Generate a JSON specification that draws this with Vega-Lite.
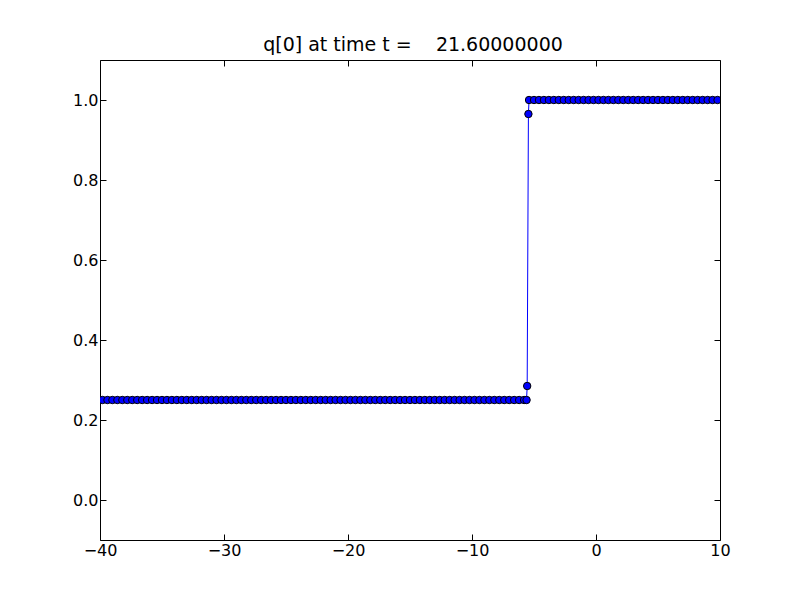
{
  "$schema": "https://vega.github.io/schema/vega-lite/v6.json",
  "width": 620,
  "height": 480,
  "autosize": "none",
  "padding": {"left": 100, "top": 60, "right": 80, "bottom": 60},
  "background": "white",
  "title": {"text": "q[0] at time t =\u00a0\u00a0\u00a0\u00a021.60000000", "font": "DejaVu Sans", "fontSize": 19, "fontWeight": "normal", "color": "black", "offset": 5, "anchor": "middle", "dx": 3},
  "config": {
    "view": {"stroke": "black", "strokeWidth": 1},
    "axis": {"labelFont": "DejaVu Sans", "labelFontSize": 16, "labelColor": "black", "domain": false, "grid": false, "tickColor": "black", "tickSize": -6, "tickWidth": 1, "title": null, "labelFlush": false, "labelOverlap": false, "labelBound": false}
  },
  "data": {"values": [
    {"x": -39.8, "q": 0.25}, {"x": -39.4, "q": 0.25}, {"x": -39.0, "q": 0.25}, {"x": -38.6, "q": 0.25}, {"x": -38.2, "q": 0.25},
    {"x": -37.8, "q": 0.25}, {"x": -37.4, "q": 0.25}, {"x": -37.0, "q": 0.25}, {"x": -36.6, "q": 0.25}, {"x": -36.2, "q": 0.25},
    {"x": -35.8, "q": 0.25}, {"x": -35.4, "q": 0.25}, {"x": -35.0, "q": 0.25}, {"x": -34.6, "q": 0.25}, {"x": -34.2, "q": 0.25},
    {"x": -33.8, "q": 0.25}, {"x": -33.4, "q": 0.25}, {"x": -33.0, "q": 0.25}, {"x": -32.6, "q": 0.25}, {"x": -32.2, "q": 0.25},
    {"x": -31.8, "q": 0.25}, {"x": -31.4, "q": 0.25}, {"x": -31.0, "q": 0.25}, {"x": -30.6, "q": 0.25}, {"x": -30.2, "q": 0.25},
    {"x": -29.8, "q": 0.25}, {"x": -29.4, "q": 0.25}, {"x": -29.0, "q": 0.25}, {"x": -28.6, "q": 0.25}, {"x": -28.2, "q": 0.25},
    {"x": -27.8, "q": 0.25}, {"x": -27.4, "q": 0.25}, {"x": -27.0, "q": 0.25}, {"x": -26.6, "q": 0.25}, {"x": -26.2, "q": 0.25},
    {"x": -25.8, "q": 0.25}, {"x": -25.4, "q": 0.25}, {"x": -25.0, "q": 0.25}, {"x": -24.6, "q": 0.25}, {"x": -24.2, "q": 0.25},
    {"x": -23.8, "q": 0.25}, {"x": -23.4, "q": 0.25}, {"x": -23.0, "q": 0.25}, {"x": -22.6, "q": 0.25}, {"x": -22.2, "q": 0.25},
    {"x": -21.8, "q": 0.25}, {"x": -21.4, "q": 0.25}, {"x": -21.0, "q": 0.25}, {"x": -20.6, "q": 0.25}, {"x": -20.2, "q": 0.25},
    {"x": -19.8, "q": 0.25}, {"x": -19.4, "q": 0.25}, {"x": -19.0, "q": 0.25}, {"x": -18.6, "q": 0.25}, {"x": -18.2, "q": 0.25},
    {"x": -17.8, "q": 0.25}, {"x": -17.4, "q": 0.25}, {"x": -17.0, "q": 0.25}, {"x": -16.6, "q": 0.25}, {"x": -16.2, "q": 0.25},
    {"x": -15.8, "q": 0.25}, {"x": -15.4, "q": 0.25}, {"x": -15.0, "q": 0.25}, {"x": -14.6, "q": 0.25}, {"x": -14.2, "q": 0.25},
    {"x": -13.8, "q": 0.25}, {"x": -13.4, "q": 0.25}, {"x": -13.0, "q": 0.25}, {"x": -12.6, "q": 0.25}, {"x": -12.2, "q": 0.25},
    {"x": -11.8, "q": 0.25}, {"x": -11.4, "q": 0.25}, {"x": -11.0, "q": 0.25}, {"x": -10.6, "q": 0.25}, {"x": -10.2, "q": 0.25},
    {"x": -9.8, "q": 0.25}, {"x": -9.4, "q": 0.25}, {"x": -9.0, "q": 0.25}, {"x": -8.6, "q": 0.25}, {"x": -8.2, "q": 0.25},
    {"x": -7.8, "q": 0.25}, {"x": -7.4, "q": 0.25}, {"x": -7.0, "q": 0.25}, {"x": -6.6, "q": 0.25}, {"x": -6.2, "q": 0.25},
    {"x": -5.8, "q": 0.25}, {"x": -5.6, "q": 0.25}, {"x": -5.55, "q": 0.285}, {"x": -5.45, "q": 0.965}, {"x": -5.4, "q": 1.0},
    {"x": -5.0, "q": 1.0}, {"x": -4.6, "q": 1.0}, {"x": -4.2, "q": 1.0}, {"x": -3.8, "q": 1.0}, {"x": -3.4, "q": 1.0},
    {"x": -3.0, "q": 1.0}, {"x": -2.6, "q": 1.0}, {"x": -2.2, "q": 1.0}, {"x": -1.8, "q": 1.0}, {"x": -1.4, "q": 1.0},
    {"x": -1.0, "q": 1.0}, {"x": -0.6, "q": 1.0}, {"x": -0.2, "q": 1.0}, {"x": 0.2, "q": 1.0}, {"x": 0.6, "q": 1.0},
    {"x": 1.0, "q": 1.0}, {"x": 1.4, "q": 1.0}, {"x": 1.8, "q": 1.0}, {"x": 2.2, "q": 1.0}, {"x": 2.6, "q": 1.0},
    {"x": 3.0, "q": 1.0}, {"x": 3.4, "q": 1.0}, {"x": 3.8, "q": 1.0}, {"x": 4.2, "q": 1.0}, {"x": 4.6, "q": 1.0},
    {"x": 5.0, "q": 1.0}, {"x": 5.4, "q": 1.0}, {"x": 5.8, "q": 1.0}, {"x": 6.2, "q": 1.0}, {"x": 6.6, "q": 1.0},
    {"x": 7.0, "q": 1.0}, {"x": 7.4, "q": 1.0}, {"x": 7.8, "q": 1.0}, {"x": 8.2, "q": 1.0}, {"x": 8.6, "q": 1.0},
    {"x": 9.0, "q": 1.0}, {"x": 9.4, "q": 1.0}, {"x": 9.8, "q": 1.0}
  ]},
  "layer": [
    {
      "mark": {"type": "line", "color": "#0000ff", "strokeWidth": 1, "clip": true},
      "encoding": {
        "x": {"field": "x", "type": "quantitative", "scale": {"domain": [-40, 10], "nice": false, "zero": false},
              "axis": {"orient": "bottom", "values": [-40, -30, -20, -10, 0, 10], "labelPadding": 8}},
        "y": {"field": "q", "type": "quantitative", "scale": {"domain": [-0.1, 1.1], "nice": false, "zero": false},
              "axis": {"orient": "left", "values": [0, 0.2, 0.4, 0.6, 0.8, 1.0], "format": ".1f", "labelPadding": 8}}
      }
    },
    {
      "mark": {"type": "point", "shape": "circle", "filled": true, "fill": "#0000ff", "stroke": "black", "strokeWidth": 1, "size": 55, "opacity": 1, "clip": true},
      "encoding": {
        "x": {"field": "x", "type": "quantitative",
              "axis": {"orient": "top", "values": [-40, -30, -20, -10, 0, 10], "labels": false}},
        "y": {"field": "q", "type": "quantitative",
              "axis": {"orient": "right", "values": [0, 0.2, 0.4, 0.6, 0.8, 1.0], "labels": false}}
      }
    }
  ]
}
